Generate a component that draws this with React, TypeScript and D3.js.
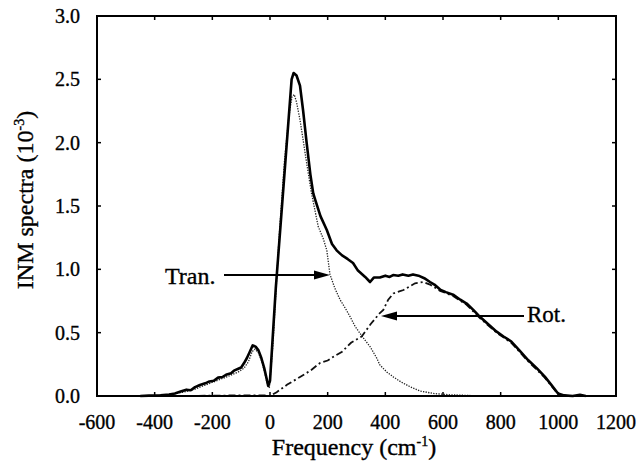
import React from "react";
import * as d3 from "d3";

// Frequency (cm^-1) and INM spectra (10^-3)
const totalFreq = [-450,-420,-380,-350,-330,-310,-290,-275,-260,-243,-225,-210,-195,-180,-165,-150,-135,-125,-110,-100,-90,-80,-70,-60,-50,-40,-30,-20,-12,-6,0,20,45,65,75,82,92,104,115,127,140,150,158,175,197,215,231,250,270,288,305,330,347,360,381,400,415,427,445,460,480,496,515,535,555,570,590,610,635,660,682,705,728,755,786,810,837,865,895,925,953,975,999,1020,1050,1075,1095];
const totalVal = [0,0.003,0.006,0.012,0.02,0.035,0.05,0.045,0.07,0.087,0.1,0.115,0.12,0.145,0.15,0.17,0.18,0.2,0.215,0.225,0.26,0.3,0.35,0.4,0.39,0.36,0.3,0.22,0.14,0.08,0.12,0.85,1.6,2.2,2.5,2.55,2.53,2.45,2.25,2.0,1.75,1.6,1.54,1.42,1.31,1.2,1.15,1.11,1.08,1.05,0.99,0.94,0.9,0.935,0.935,0.95,0.94,0.955,0.95,0.96,0.95,0.96,0.95,0.93,0.9,0.88,0.84,0.82,0.8,0.76,0.73,0.68,0.625,0.57,0.508,0.47,0.43,0.36,0.284,0.22,0.153,0.09,0.02,0.005,0,0.01,0];

const tranFreq = [-440,-400,-350,-300,-260,-220,-180,-140,-110,-90,-75,-62,-52,-40,-28,-18,-8,-2,10,30,50,65,76,84,92,104,115,127,144,167,185,197,208,225,243,262,278,295,312,330,347,370,381,405,428,455,486,520,566,620,680,730];
const tranVal = [0,0.003,0.01,0.03,0.055,0.09,0.125,0.16,0.19,0.22,0.27,0.35,0.37,0.34,0.27,0.18,0.08,0.07,0.4,1.2,1.85,2.2,2.36,2.38,2.32,2.18,2.02,1.84,1.6,1.34,1.24,1.15,0.96,0.85,0.76,0.69,0.625,0.55,0.495,0.44,0.39,0.3,0.245,0.19,0.15,0.11,0.073,0.04,0.02,0.01,0.005,0];

const rotFreq = [-300,-100,-20,0,23,60,104,140,173,200,220,250,281,318,350,381,393,410,428,463,503,530,555,590,635,682,728,786,837,895,953,999,1030];
const rotVal = [0,0.005,0.005,0,0.03,0.09,0.15,0.2,0.26,0.28,0.31,0.35,0.42,0.47,0.57,0.655,0.68,0.76,0.81,0.837,0.89,0.9,0.88,0.83,0.79,0.72,0.615,0.5,0.42,0.275,0.145,0.015,0];

const xTicks = [-600,-400,-200,0,200,400,600,800,1000,1200];
const yTicks = [0,0.5,1.0,1.5,2.0,2.5,3.0];

const W = 638, H = 469;
const x = d3.scaleLinear().domain([-600, 1200]).range([97, 616]);
const y = d3.scaleLinear().domain([0, 3]).range([396, 16]);

const line = d3.line<[number, number]>().x(d => x(d[0])).y(d => y(d[1]));
const zip = (a: number[], b: number[]) => a.map((v, i) => [v, b[i]] as [number, number]);

const serif = { fontFamily: "\"Liberation Serif\", \"DejaVu Serif\", serif" };

export default function App() {
  const tl = 4;
  return (
    <svg width={W} height={H} style={{ position: "absolute", left: 0, top: 0, background: "#fff" }}>
      <rect x={0} y={0} width={W} height={H} fill="#fff" />
      {/* curves */}
      <path d={line(zip(tranFreq, tranVal)) || ""} fill="none" stroke="#222" strokeWidth={1.3} strokeDasharray="1.3,1.3" />
      <path d={line(zip(rotFreq, rotVal)) || ""} fill="none" stroke="#111" strokeWidth={1.8} strokeDasharray="7,3,2,3" />
      <path d={line(zip(totalFreq, totalVal)) || ""} fill="none" stroke="#000" strokeWidth={2.6} strokeLinejoin="round" />
      {/* frame */}
      <rect x={x(-600)} y={y(3)} width={x(1200) - x(-600)} height={y(0) - y(3)} fill="none" stroke="#000" strokeWidth={2} />
      <g style={serif} fill="#000" stroke="#000" strokeWidth={0.35}>
        {xTicks.map(t => (
          <g key={"x" + t}>
            <line x1={x(t)} x2={x(t)} y1={y(0)} y2={y(0) - tl} strokeWidth={1.5} />
            <line x1={x(t)} x2={x(t)} y1={y(3)} y2={y(3) + tl} strokeWidth={1.5} />
            <text x={x(t)} y={429} textAnchor="middle" fontSize={20}>{t}</text>
          </g>
        ))}
        {yTicks.map(t => (
          <g key={"y" + t}>
            <line x1={x(-600)} x2={x(-600) + tl} y1={y(t)} y2={y(t)} strokeWidth={1.5} />
            <line x1={x(1200)} x2={x(1200) - tl} y1={y(t)} y2={y(t)} strokeWidth={1.5} />
            <text x={80} y={y(t) + 7} textAnchor="end" fontSize={20}>{t.toFixed(1)}</text>
          </g>
        ))}
        {/* axis titles */}
        <text x={354} y={455} textAnchor="middle" fontSize={24}>
          Frequency (cm<tspan dy={-9} fontSize={14}>-1</tspan><tspan dy={9}>)</tspan>
        </text>
        <text transform="translate(33,200) rotate(-90)" textAnchor="middle" fontSize={24}>
          INM spectra (10<tspan dy={-9} fontSize={14}>-3</tspan><tspan dy={9}>)</tspan>
        </text>
        {/* annotations */}
        <text x={165} y={284} fontSize={24}>Tran.</text>
        <text x={527} y={322} fontSize={23}>Rot.</text>
      </g>
      <line x1={224} x2={318} y1={275} y2={275} stroke="#000" strokeWidth={1.8} />
      <path d="M330,275 L314,270.5 L314,279.5 Z" fill="#000" />
      <line x1={524} x2={393} y1={316} y2={316} stroke="#000" strokeWidth={1.8} />
      <path d="M381,316 L397,311.5 L397,320.5 Z" fill="#000" />
    </svg>
  );
}
